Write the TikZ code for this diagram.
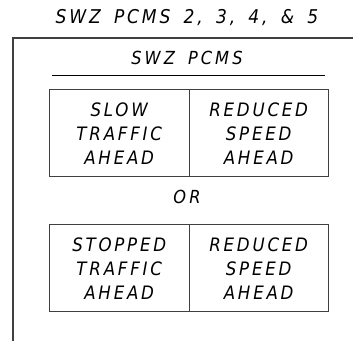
\documentclass[tikz,border=0pt]{standalone}
\usepackage{fontspec}
\setmainfont{DejaVu Sans}
\newfontfamily\signfont[LetterSpace=15]{DejaVu Sans Condensed}
\newfontfamily\headfont[LetterSpace=17,WordSpace=1.6]{DejaVu Sans Condensed}
\newfontfamily\titlefont[LetterSpace=15,WordSpace=1.6]{DejaVu Sans Condensed}
\begin{document}
\begin{tikzpicture}[x=1pt,y=-1pt,
  lbl/.style={font=\signfont\itshape\fontsize{18.5}{24}\selectfont, align=center, inner sep=0pt},
  head/.style={font=\headfont\itshape\fontsize{18}{20}\selectfont, align=center, inner sep=0pt},
  cell/.style={draw=black!75, line width=0.9pt, minimum width=139.5pt, minimum height=87pt, inner sep=0pt, anchor=north west},
  frame/.style={draw=black!75, line width=1.3pt}]
\useasboundingbox (0,0) rectangle (353,341);
\node[head, font=\titlefont\itshape\fontsize{19}{20}\selectfont] (title) at (187,18) {SWZ PCMS 2, 3, 4, \& 5};
\coordinate (ftl) at (13,38);
\coordinate (ftr) at (353,38);
\coordinate (fbl) at (13,341);
\draw[frame] (fbl) -- (ftl) -- (ftr);
\node[head] (sub) at (187,58) {SWZ PCMS};
\coordinate (ul) at (52,75);
\coordinate (ur) at (325,75);
\draw[line width=1pt] (ul) -- (ur);
\node[cell] (a1) at (49,89) {};
\node[cell] (a2) at (188.5,89) {};
\node[lbl] at ([yshift=-1pt]a1.center) {SLOW\\TRAFFIC\\AHEAD};
\node[lbl] at ([yshift=-1pt]a2.center) {REDUCED\\SPEED\\AHEAD};
\node[head] (or) at (187,197) {OR};
\node[cell] (b1) at (49,224) {};
\node[cell] (b2) at (188.5,224) {};
\node[lbl] at ([yshift=-1pt]b1.center) {STOPPED\\TRAFFIC\\AHEAD};
\node[lbl] at ([yshift=-1pt]b2.center) {REDUCED\\SPEED\\AHEAD};
\end{tikzpicture}
\end{document}
